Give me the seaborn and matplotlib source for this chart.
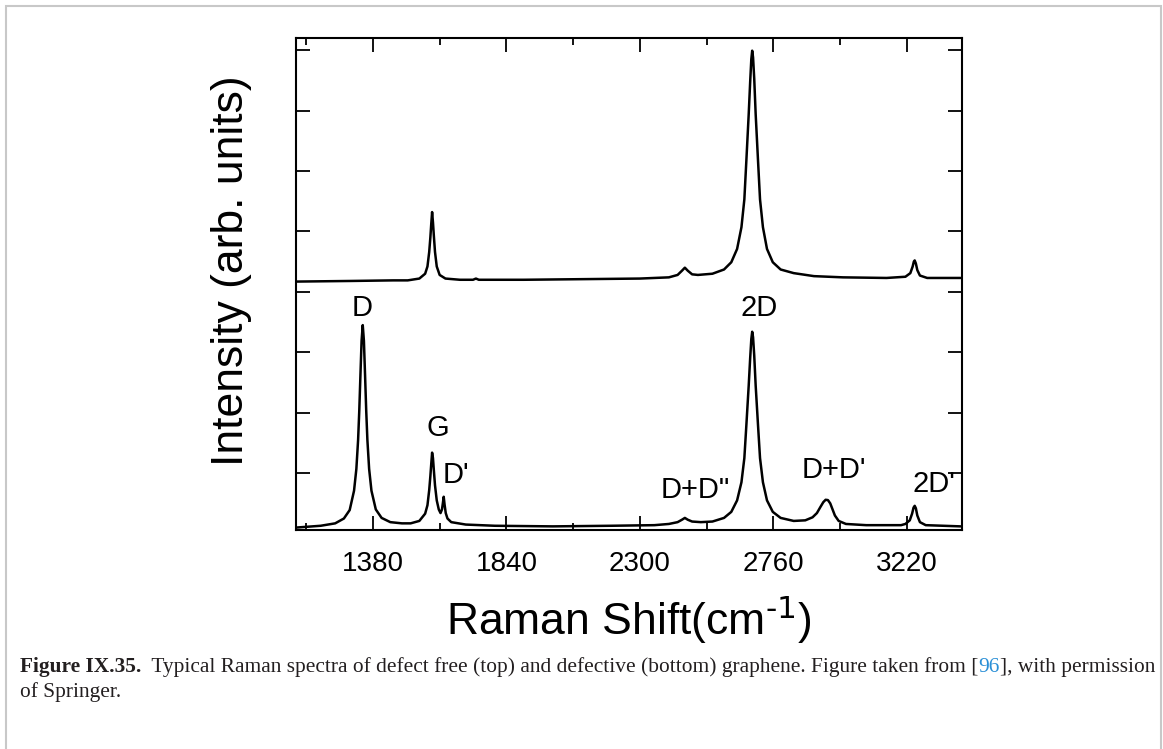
import matplotlib
matplotlib.use('Agg')
import matplotlib.pyplot as plt
import seaborn as sns
import pandas as pd
from matplotlib.patches import Rectangle
from matplotlib import font_manager

# spectrum of defective graphene (bottom trace)
bottom_shift = [1115, 1200, 1250, 1280, 1300, 1315, 1323, 1329, 1333, 1337, 1341, 1345, 1349, 1353,
                1357, 1361, 1367, 1375, 1390, 1410, 1440, 1480, 1510, 1540, 1560, 1568, 1574, 1578,
                1581, 1584, 1587, 1590, 1594, 1600, 1607, 1613, 1618, 1621, 1624, 1627, 1631, 1637,
                1650, 1700, 1800, 2000, 2200, 2350, 2400, 2430, 2445, 2455, 2465, 2480, 2510, 2550,
                2590, 2615, 2635, 2650, 2660, 2667, 2675, 2680, 2684, 2687, 2690, 2694, 2699, 2707,
                2714, 2724, 2738, 2758, 2785, 2830, 2870, 2895, 2910, 2922, 2932, 2940, 2948, 2956,
                2964, 2972, 2985, 3010, 3080, 3200, 3215, 3230, 3238, 3243, 3247, 3251, 3256, 3265,
                3285, 3405]
bottom_intensity = [0.10, 0.13, 0.17, 0.25, 0.39, 0.71, 1.07, 1.55, 2.03, 2.62, 3.19, 3.45, 3.19, 2.62,
                    2.03, 1.55, 1.07, 0.71, 0.40, 0.26, 0.19, 0.17, 0.17, 0.21, 0.33, 0.47, 0.72, 0.95,
                    1.15, 1.34, 1.25, 1.05, 0.80, 0.55, 0.40, 0.34, 0.40, 0.50, 0.61, 0.48, 0.34, 0.25,
                    0.19, 0.15, 0.13, 0.12, 0.13, 0.14, 0.16, 0.19, 0.23, 0.26, 0.23, 0.20, 0.19, 0.20,
                    0.26, 0.36, 0.55, 0.85, 1.25, 1.80, 2.45, 2.90, 3.22, 3.34, 3.25, 2.95, 2.45, 1.80,
                    1.25, 0.85, 0.55, 0.36, 0.26, 0.21, 0.22, 0.27, 0.34, 0.44, 0.52, 0.56, 0.555, 0.50,
                    0.40, 0.30, 0.21, 0.16, 0.14, 0.14, 0.16, 0.22, 0.33, 0.43, 0.46, 0.42, 0.30, 0.19,
                    0.14, 0.12]

# spectrum of defect free graphene (top trace, offset)
top_shift = [1115, 1300, 1450, 1500, 1540, 1560, 1568, 1574, 1578, 1581, 1584, 1587, 1590, 1594,
             1600, 1610, 1630, 1680, 1725, 1735, 1745, 1900, 2100, 2300, 2400, 2430, 2445, 2455,
             2465, 2480, 2500, 2550, 2590, 2615, 2635, 2650, 2660, 2667, 2675, 2680, 2684, 2687,
             2690, 2694, 2699, 2707, 2714, 2724, 2738, 2758, 2785, 2830, 2900, 3000, 3150, 3215,
             3232, 3240, 3244, 3247, 3251, 3256, 3265, 3290, 3405]
top_intensity = [4.17, 4.18, 4.19, 4.19, 4.22, 4.30, 4.42, 4.66, 4.90, 5.12, 5.32, 5.15, 4.93, 4.66,
                 4.42, 4.28, 4.22, 4.20, 4.20, 4.22, 4.20, 4.20, 4.21, 4.22, 4.24, 4.28, 4.35, 4.40,
                 4.35, 4.29, 4.28, 4.30, 4.37, 4.49, 4.71, 5.07, 5.53, 6.18, 6.94, 7.47, 7.85, 7.99,
                 7.88, 7.53, 6.94, 6.18, 5.53, 5.07, 4.71, 4.49, 4.37, 4.31, 4.26, 4.24, 4.23, 4.25,
                 4.31, 4.42, 4.50, 4.52, 4.47, 4.36, 4.27, 4.23, 4.23]

peak_names = ['D', 'G', "D'", 'D+D"', '2D', "D+D'", "2D'"]
peak_label_x = [1342, 1604, 1666, 2491, 2711, 2967, 3312]
peak_label_y = [3.73, 1.74, 0.97, 0.72, 3.73, 1.05, 0.82]

major_ticks = [1380, 1840, 2300, 2760, 3220]
minor_ticks = [1150, 1610, 2070, 2530, 2990]

sns.set_style('ticks')
names = {f.name for f in font_manager.fontManager.ttflist}
sans = 'Liberation Sans' if 'Liberation Sans' in names else 'DejaVu Sans'
serif = 'Liberation Serif' if 'Liberation Serif' in names else 'DejaVu Serif'
plt.rcParams['font.family'] = [sans, 'DejaVu Sans']
plt.rcParams['mathtext.default'] = 'regular'
plt.rcParams.update({'text.color': 'black', 'axes.labelcolor': 'black',
                     'xtick.color': 'black', 'ytick.color': 'black'})

W, H = 1163, 749
fig = plt.figure(figsize=(W / 100, H / 100), dpi=100)
ax = fig.add_axes([296 / W, 1 - 530 / H, 666 / W, 492 / H])

df_bottom = pd.DataFrame({'shift': bottom_shift, 'intensity': bottom_intensity})
df_top = pd.DataFrame({'shift': top_shift, 'intensity': top_intensity})
sns.lineplot(data=df_bottom, x='shift', y='intensity', ax=ax, color='black', linewidth=1.8)
sns.lineplot(data=df_top, x='shift', y='intensity', ax=ax, color='black', linewidth=1.8)

for name, lx, ly in zip(peak_names, peak_label_x, peak_label_y):
    ax.text(lx, ly, name, ha='center', va='center', fontsize=21)

ax.set_xlim(1115, 3410)
ax.set_ylim(0.06, 8.2)
ax.set_xticks(major_ticks)
ax.set_xticklabels([str(t) for t in major_ticks])
ax.set_xticks(minor_ticks, minor=True)
ax.set_yticks(range(1, 9))
ax.set_yticklabels([])
ax.tick_params(which='both', direction='in', top=True, right=True, width=1.3, color='black')
ax.tick_params(which='major', length=10, labelsize=20, pad=15)
ax.tick_params(which='minor', length=5)
for s in ax.spines.values():
    s.set_linewidth(1.5)
    s.set_color('black')

ax.set_xlabel(r'Raman Shift(cm$^{\text{-1}}$)', fontsize=32, labelpad=12)
ax.set_ylabel('Intensity (arb. units)', fontsize=32)
ax.yaxis.set_label_coords(-0.066, 0.528)

# light frame around the figure
fig.add_artist(Rectangle((6 / W, -0.02), (1161 - 6) / W, 1.02 - 6 / H, transform=fig.transFigure,
                         fill=False, edgecolor='#c8c8c8', linewidth=1.5))

# caption
renderer = fig.canvas.get_renderer()
pieces = [('Figure IX.35.', 'bold', '#231f20'),
          ('  Typical Raman spectra of defect free (top) and defective (bottom) graphene. Figure taken from [', 'normal', '#231f20'),
          ('96', 'normal', '#2a8fd6'),
          ('], with permission', 'normal', '#231f20')]


def draw_line(x0, y0, parts, size):
    x = x0
    made = []
    for txt, weight, col in parts:
        t = fig.text(x / W, 1 - y0 / H, txt, ha='left', va='baseline', fontsize=size,
                     fontweight=weight, color=col, family=serif)
        x = t.get_window_extent(renderer).x1
        made.append(t)
    return x, made


end, made = draw_line(20, 672, pieces, 13)
size = 13 * (1150 - 20) / (end - 20)
for t in made:
    t.remove()
draw_line(20, 672, pieces, size)
draw_line(20, 697, [('of Springer.', 'normal', '#231f20')], size)

plt.savefig('out.png', dpi=100)
